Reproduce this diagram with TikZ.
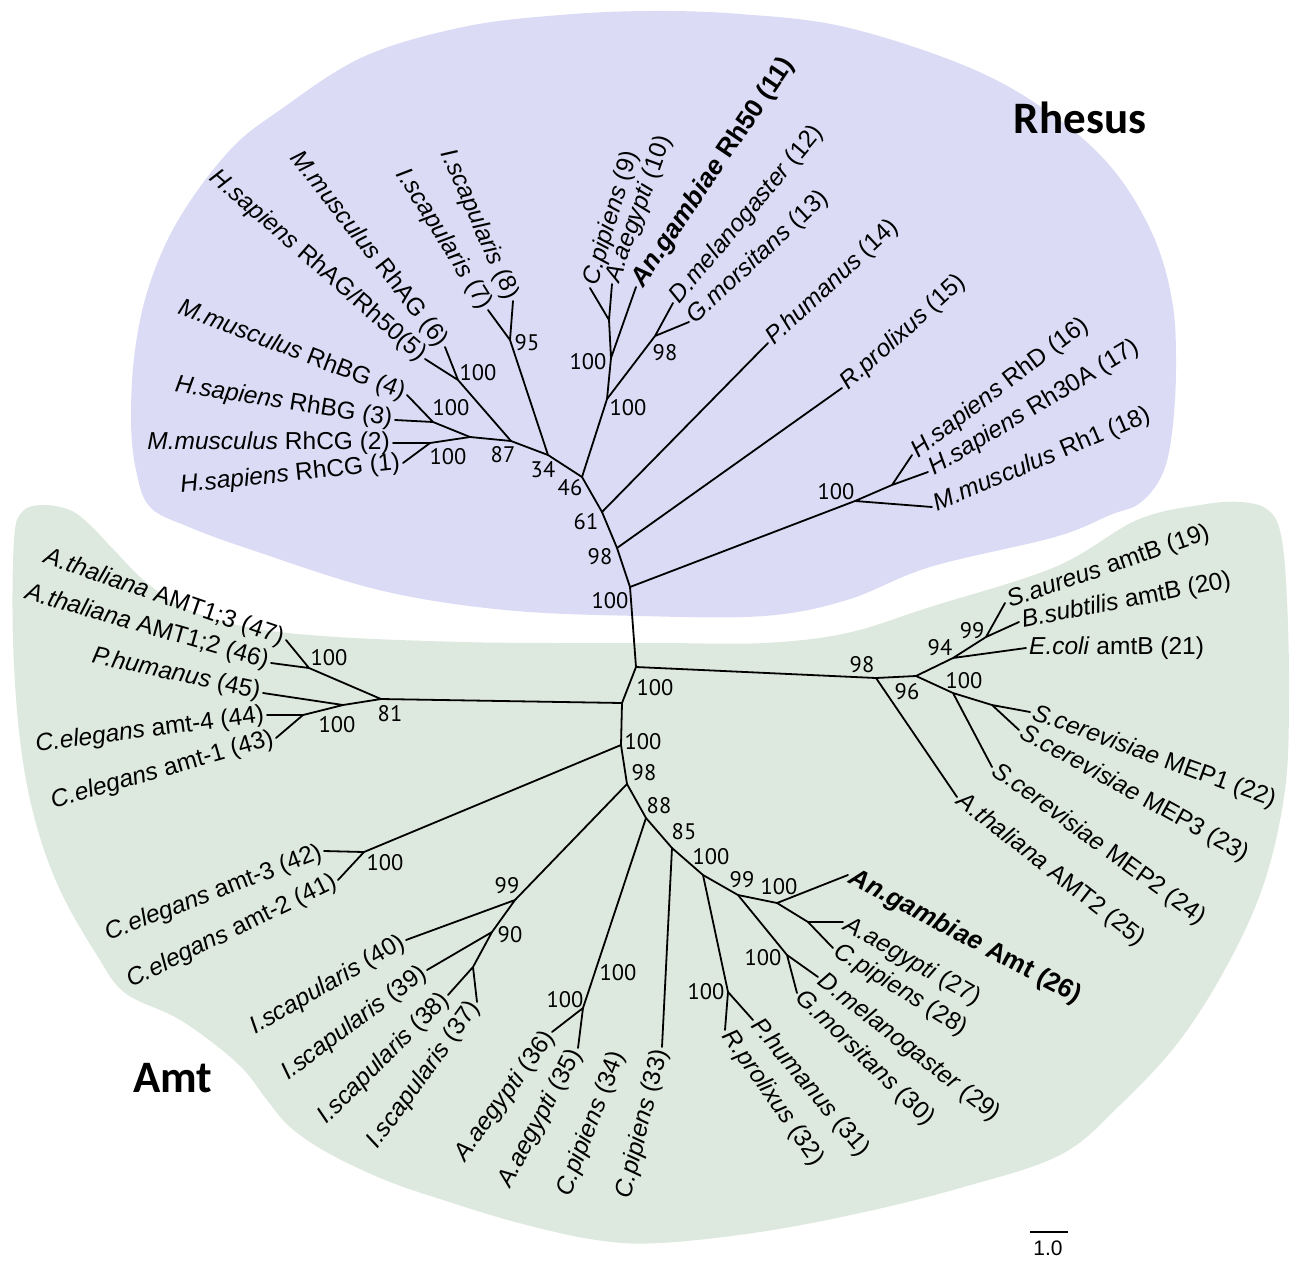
\documentclass[tikz,border=0pt]{standalone}
\usepackage{fontspec}
\setmainfont{Liberation Sans}
\newfontfamily\numfont{PT Sans}
\newfontfamily\ttlfont{Carlito}
\definecolor{rhfill}{RGB}{219,219,245}
\definecolor{amfill}{RGB}{221,233,222}
\begin{document}
\begin{tikzpicture}[x=1pt,y=-1pt,
  br/.style={line width=1.8pt, line cap=round, line join=round},
  lab/.style={font=\fontsize{24.5}{28}\selectfont, inner sep=3pt},
  blab/.style={font=\fontsize{26}{30}\selectfont\bfseries, inner sep=3pt},
  bs/.style={font=\numfont\fontsize{22.5}{26}\selectfont, inner sep=0pt},
  ttl/.style={font=\ttlfont\bfseries\fontsize{45}{50}\selectfont, inner sep=0pt}]
\useasboundingbox (0,0) rectangle (1290,1261);
% bubbles
\fill[rhfill] plot[smooth cycle, tension=0.6] coordinates {
 (150,507) (136,470) (131,420) (135,350) (150,283) (180,217) (230,150) (280,110)
 (363,57) (463,27) (560,15) (650,11) (740,14) (845,27) (968,67) (1050,113)
 (1111,167) (1152,233) (1172,300) (1176,367) (1172,433) (1162,475) (1140,503)
 (1110,515) (1055,537) (930,567) (847,600) (764,616) (640,616) (505,610)
 (379,590) (252,550) (189,527)};
\fill[amfill] plot[smooth cycle, tension=0.6] coordinates {
 (14,540) (22,512) (42,505) (70,510) (90,525) (114,550) (147,583) (189,610)
 (252,628) (337,637) (463,642) (560,643) (660,643) (764,643) (847,633) (930,607)
 (1055,567) (1137,520) (1200,505) (1241,502) (1268,510) (1281,535) (1287,600)
 (1289,700) (1285,790) (1265,880) (1230,960) (1180,1040) (1120,1105) (1060,1155)
 (960,1188) (860,1213) (760,1232) (660,1243) (596,1240) (519,1223) (443,1200)
 (385,1180) (328,1153) (290,1127) (267,1100) (244,1070) (213,1043) (175,1017)
 (125,993) (98,957) (60,890) (35,820) (20,740) (13,640)};
% ---------- Rhesus coordinates
\coordinate (R0) at (636,667);
\coordinate (R1) at (630,587);
\coordinate (R2) at (617,548);
\coordinate (R3) at (602,512);
\coordinate (R4) at (582,477);
\coordinate (R5) at (548,455);
\coordinate (R6) at (511,441);
\coordinate (R7) at (470,437);
\coordinate (R8) at (433,422);
\coordinate (R9) at (430,443);
\coordinate (R10) at (458,380);
\coordinate (R11) at (510,340);
\coordinate (R12) at (607,399);
\coordinate (R13) at (611,358);
\coordinate (R14) at (609,320);
\coordinate (R15) at (655,336);
\coordinate (R16) at (855,501);
\coordinate (R17) at (892,485);
\coordinate (L1) at (403,463);
\coordinate (L2) at (393,443);
\coordinate (L3) at (395,420);
\coordinate (L4) at (407,395);
\coordinate (L5) at (425,359);
\coordinate (L6) at (445,347);
\coordinate (L7) at (488,310);
\coordinate (L8) at (513,301);
\coordinate (L9) at (590,288);
\coordinate (L10) at (612,284);
\coordinate (L11) at (636,287);
\coordinate (L12) at (673,303);
\coordinate (L13) at (689,322);
\coordinate (L14) at (768,343);
\coordinate (L15) at (842,388);
\coordinate (L16) at (912,455);
\coordinate (L17) at (928,472);
\coordinate (L18) at (932,507);
% ---------- Amt coordinates
\coordinate (A1) at (622,703);
\coordinate (A2) at (381,699);
\coordinate (A3) at (309,668);
\coordinate (A4) at (343,705);
\coordinate (A5) at (303,715);
\coordinate (A6) at (621,745);
\coordinate (A7) at (364,852);
\coordinate (A8) at (627,784);
\coordinate (A9) at (515,900);
\coordinate (A10) at (492,932);
\coordinate (A11) at (473,967);
\coordinate (A12) at (646,818);
\coordinate (A13) at (583,1008);
\coordinate (A14) at (672,848);
\coordinate (A15) at (703,875);
\coordinate (A16) at (728,992);
\coordinate (A17) at (738,895);
\coordinate (A18) at (787,955);
\coordinate (A19) at (777,903);
\coordinate (A20) at (808,922);
\coordinate (A21) at (876,678);
\coordinate (A22) at (916,676);
\coordinate (A23) at (953,658);
\coordinate (A24) at (986,637);
\coordinate (A25) at (953,693);
\coordinate (A26) at (992,705);
\coordinate (L19) at (1005,603);
\coordinate (L20) at (1019,622);
\coordinate (L21) at (1026,648);
\coordinate (L22) at (1030,712);
\coordinate (L23) at (1019,730);
\coordinate (L24) at (992,767);
\coordinate (L25) at (957,797);
\coordinate (L26) at (848,875);
\coordinate (L27) at (843,922);
\coordinate (L28) at (833,948);
\coordinate (L29) at (818,977);
\coordinate (L30) at (797,993);
\coordinate (L31) at (753,1020);
\coordinate (L32) at (725,1030);
\coordinate (L33) at (662,1047);
\coordinate (L34) at (620,1050);
\coordinate (L35) at (578,1048);
\coordinate (L36) at (552,1032);
\coordinate (L37) at (477,1002);
\coordinate (L38) at (448,995);
\coordinate (L39) at (427,970);
\coordinate (L40) at (406,940);
\coordinate (L41) at (338,880);
\coordinate (L42) at (324,851);
\coordinate (L43) at (276,738);
\coordinate (L44) at (267,715);
\coordinate (L45) at (263,693);
\coordinate (L46) at (271,663);
\coordinate (L47) at (286,640);
% ---------- branches
\draw[br] (R0) -- (R1) -- (R2) -- (R3) -- (R4) -- (R5) -- (R6) -- (R7);
\draw[br] (R7) -- (R8) (R8) -- (L3) (R8) -- (L4);
\draw[br] (R7) -- (R9) (R9) -- (L1) (R9) -- (L2);
\draw[br] (R6) -- (R10) (R10) -- (L5) (R10) -- (L6);
\draw[br] (R5) -- (R11) (R11) -- (L7) (R11) -- (L8);
\draw[br] (R4) -- (R12) -- (R13) -- (R14) (R14) -- (L9) (R14) -- (L10) (R13) -- (L11);
\draw[br] (R12) -- (R15) (R15) -- (L12) (R15) -- (L13);
\draw[br] (R3) -- (L14);
\draw[br] (R2) -- (L15);
\draw[br] (R1) -- (R16) -- (R17) (R17) -- (L16) (R17) -- (L17) (R16) -- (L18);
\draw[br] (R0) -- (A1) -- (A6) -- (A8) -- (A12) -- (A14) -- (A15) -- (A17) -- (A19);
\draw[br] (A1) -- (A2) (A2) -- (A3) (A3) -- (L47) (A3) -- (L46)
  (A2) -- (A4) (A4) -- (L45) (A4) -- (A5) (A5) -- (L44) (A5) -- (L43);
\draw[br] (A6) -- (A7) (A7) -- (L42) (A7) -- (L41);
\draw[br] (A8) -- (A9) (A9) -- (L40) (A9) -- (A10) (A10) -- (L39) (A10) -- (A11)
  (A11) -- (L38) (A11) -- (L37);
\draw[br] (A12) -- (A13) (A13) -- (L36) (A13) -- (L35);
\draw[br] (A14) -- (L33);
\draw[br] (A15) -- (A16) (A16) -- (L32) (A16) -- (L31);
\draw[br] (A17) -- (A18) (A18) -- (L29) (A18) -- (L30);
\draw[br] (A19) -- (L26) (A19) -- (A20) (A20) -- (L27) (A20) -- (L28);
\draw[br] (R0) -- (A21) (A21) -- (L25) (A21) -- (A22) (A22) -- (A23) (A23) -- (L21)
  (A23) -- (A24) (A24) -- (L19) (A24) -- (L20) (A22) -- (A25) (A25) -- (L24)
  (A25) -- (A26) (A26) -- (L22) (A26) -- (L23);
% ---------- leaf labels: Rhesus
\node[lab, anchor=east, rotate=6] (t1) at (L1) {\textit{H.sapiens} RhCG (1)};
\node[lab, anchor=east, rotate=0] (t2) at (L2) {\textit{M.musculus} RhCG (2)};
\node[lab, anchor=east, rotate=-9] (t3) at (L3) {\textit{H.sapiens} RhBG (3)};
\node[lab, anchor=east, rotate=-21] (t4) at (L4) {\textit{M.musculus} RhBG (4)};
\node[lab, anchor=east, rotate=-41] (t5) at (L5) {\textit{H.sapiens} RhAG/Rh50(5)};
\node[lab, anchor=east, rotate=-52] (t6) at (L6) {\textit{M.musculus} RhAG (6)};
\node[lab, anchor=east, rotate=-58] (t7) at (L7) {\textit{I.scapularis} (7)};
\node[lab, anchor=east, rotate=-66] (t8) at (L8) {\textit{I.scapularis} (8)};
\node[lab, anchor=west, rotate=73] (t9) at (L9) {\textit{C.pipiens} (9)};
\node[lab, anchor=west, rotate=70] (t10) at (L10) {\textit{A.aegypti} (10)};
\node[blab, anchor=west, rotate=56] (t11) at (L11) {\textit{An.gambiae} Rh50 (11)};
\node[lab, anchor=west, rotate=50] (t12) at (L12) {\textit{D.melanogaster} (12)};
\node[lab, anchor=west, rotate=43] (t13) at (L13) {\textit{G.morsitans} (13)};
\node[lab, anchor=west, rotate=43] (t14) at (L14) {\textit{P.humanus} (14)};
\node[lab, anchor=west, rotate=42] (t15) at (L15) {\textit{R.prolixus} (15)};
\node[lab, anchor=west, rotate=37] (t16) at (L16) {\textit{H.sapiens} RhD (16)};
\node[lab, anchor=west, rotate=31] (t17) at (L17) {\textit{H.sapiens} Rh30A (17)};
\node[lab, anchor=west, rotate=23] (t18) at (L18) {\textit{M.musculus} Rh1 (18)};
% ---------- leaf labels: Amt
\node[lab, anchor=west, rotate=19] (t19) at (L19) {\textit{S.aureus} amtB (19)};
\node[lab, anchor=west, rotate=11] (t20) at (L20) {\textit{B.subtilis} amtB (20)};
\node[lab, anchor=west, rotate=0] (t21) at (L21) {\textit{E.coli} amtB (21)};
\node[lab, anchor=west, rotate=-20] (t22) at (L22) {\textit{S.cerevisiae} MEP1 (22)};
\node[lab, anchor=west, rotate=-29] (t23) at (L23) {\textit{S.cerevisiae} MEP3 (23)};
\node[lab, anchor=west, rotate=-36] (t24) at (L24) {\textit{S.cerevisiae} MEP2 (24)};
\node[lab, anchor=west, rotate=-38] (t25) at (L25) {\textit{A.thaliana} AMT2 (25)};
\node[blab, anchor=west, rotate=-28] (t26) at (L26) {\textit{An.gambiae} Amt (26)};
\node[lab, anchor=west, rotate=-30] (t27) at (L27) {\textit{A.aegypti} (27)};
\node[lab, anchor=west, rotate=-32] (t28) at (L28) {\textit{C.pipiens} (28)};
\node[lab, anchor=west, rotate=-38] (t29) at (L29) {\textit{D.melanogaster} (29)};
\node[lab, anchor=west, rotate=-44] (t30) at (L30) {\textit{G.morsitans} (30)};
\node[lab, anchor=west, rotate=-50] (t31) at (L31) {\textit{P.humanus} (31)};
\node[lab, anchor=west, rotate=-55] (t32) at (L32) {\textit{R.prolixus} (32)};
\node[lab, anchor=east, rotate=76] (t33) at (L33) {\textit{C.pipiens} (33)};
\node[lab, anchor=east, rotate=69] (t34) at (L34) {\textit{C.pipiens} (34)};
\node[lab, anchor=east, rotate=62] (t35) at (L35) {\textit{A.aegypti} (35)};
\node[lab, anchor=east, rotate=54] (t36) at (L36) {\textit{A.aegypti} (36)};
\node[lab, anchor=east, rotate=54] (t37) at (L37) {\textit{I.scapularis} (37)};
\node[lab, anchor=east, rotate=45] (t38) at (L38) {\textit{I.scapularis} (38)};
\node[lab, anchor=east, rotate=36.5] (t39) at (L39) {\textit{I.scapularis} (39)};
\node[lab, anchor=east, rotate=30] (t40) at (L40) {\textit{I.scapularis} (40)};
\node[lab, anchor=east, rotate=26] (t41) at (L41) {\textit{C.elegans} amt-2 (41)};
\node[lab, anchor=east, rotate=21] (t42) at (L42) {\textit{C.elegans} amt-3 (42)};
\node[lab, anchor=east, rotate=16] (t43) at (L43) {\textit{C.elegans} amt-1 (43)};
\node[lab, anchor=east, rotate=7.5] (t44) at (L44) {\textit{C.elegans} amt-4 (44)};
\node[lab, anchor=east, rotate=-12] (t45) at (L45) {\textit{P.humanus} (45)};
\node[lab, anchor=east, rotate=-16] (t46) at (L46) {\textit{A.thaliana} AMT1;2 (46)};
\node[lab, anchor=east, rotate=-19] (t47) at (L47) {\textit{A.thaliana} AMT1;3 (47)};
% ---------- bootstrap values
\node[bs] (b1) at (610,601) {100};
\node[bs] (b2) at (600,557) {98};
\node[bs] (b3) at (586,522) {61};
\node[bs] (b4) at (570,488) {46};
\node[bs] (b5) at (543,470) {34};
\node[bs] (b6) at (503,455) {87};
\node[bs] (b7) at (451,408) {100};
\node[bs] (b8) at (448,457) {100};
\node[bs] (b9) at (478,373) {100};
\node[bs] (b10) at (527,343) {95};
\node[bs] (b11) at (588,362) {100};
\node[bs] (b12) at (628,408) {100};
\node[bs] (b13) at (665,353) {98};
\node[bs] (b14) at (836,492) {100};
\node[bs] (b15) at (655,688) {100};
\node[bs] (b16) at (390,714) {81};
\node[bs] (b17) at (329,658) {100};
\node[bs] (b18) at (337,725) {100};
\node[bs] (b19) at (643,742) {100};
\node[bs] (b20) at (385,863) {100};
\node[bs] (b21) at (644,773) {98};
\node[bs] (b22) at (507,886) {99};
\node[bs] (b23) at (510,935) {90};
\node[bs] (b24) at (659,806) {88};
\node[bs] (b25) at (618,973) {100};
\node[bs] (b26) at (565,1000) {100};
\node[bs] (b27) at (684,832) {85};
\node[bs] (b28) at (711,857) {100};
\node[bs] (b29) at (706,992) {100};
\node[bs] (b30) at (742,880) {99};
\node[bs] (b31) at (763,958) {100};
\node[bs] (b32) at (779,887) {100};
\node[bs] (b33) at (862,665) {98};
\node[bs] (b34) at (907,692) {96};
\node[bs] (b35) at (940,648) {94};
\node[bs] (b36) at (972,631) {99};
\node[bs] (b37) at (964,681) {100};
% ---------- titles and scale bar
\node[ttl] (rhesus) at (1080,118) {Rhesus};
\node[ttl] (amt) at (173,1078) {Amt};
\coordinate (sb1) at (1030,1232);
\coordinate (sb2) at (1068,1232);
\draw[line width=2pt] (sb1) -- (sb2);
\node[font=\fontsize{21}{24}\selectfont, inner sep=0pt] (sbl) at (1048,1248) {1.0};
\end{tikzpicture}
\end{document}
